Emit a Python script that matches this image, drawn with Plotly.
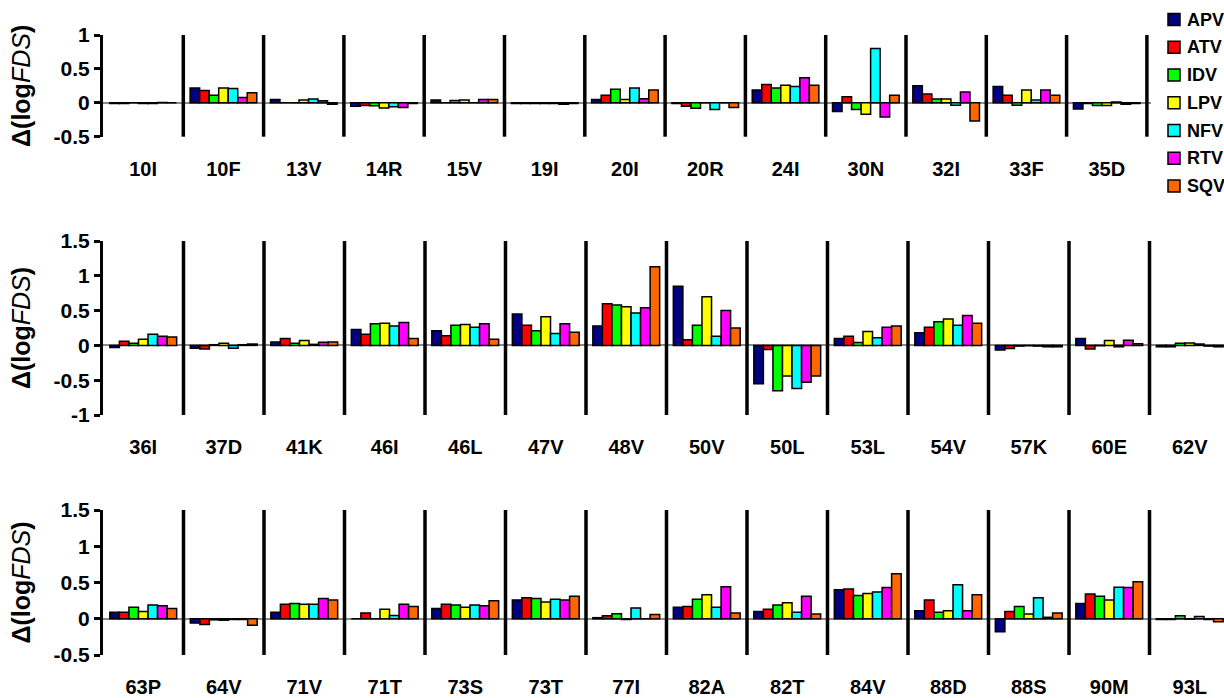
import plotly.graph_objects as go

drugs = ["APV", "ATV", "IDV", "LPV", "NFV", "RTV", "SQV"]
colors = ["#000080", "#FF0000", "#00FF00", "#FFFF00", "#00FFFF", "#FF00FF", "#FF6600"]

# Panel 1
cats1 = ["10I", "10F", "13V", "14R", "15V", "19I", "20I", "20R", "24I", "30N", "32I", "33F", "35D"]
apv1 = [-0.01, 0.22, 0.05, -0.05, 0.04, -0.01, 0.05, -0.01, 0.19, -0.13, 0.25, 0.24, -0.09]
atv1 = [-0.01, 0.18, 0.0, -0.04, 0.0, -0.01, 0.11, -0.05, 0.27, 0.09, 0.13, 0.11, -0.01]
idv1 = [0.0, 0.11, 0.0, -0.045, 0.035, -0.01, 0.20, -0.08, 0.22, -0.10, 0.055, -0.035, -0.04]
lpv1 = [-0.01, 0.22, 0.04, -0.075, 0.04, -0.01, 0.05, 0.0, 0.26, -0.17, 0.055, 0.19, -0.04]
nfv1 = [-0.01, 0.21, 0.055, -0.06, 0.0, -0.01, 0.22, -0.10, 0.24, 0.80, -0.035, 0.04, 0.01]
rtv1 = [0.005, 0.08, 0.03, -0.07, 0.05, -0.02, 0.06, 0.0, 0.37, -0.21, 0.16, 0.19, -0.02]
sqv1 = [0.0, 0.15, -0.02, -0.01, 0.05, -0.01, 0.19, -0.07, 0.26, 0.11, -0.27, 0.11, -0.01]

# Panel 2
cats2 = ["36I", "37D", "41K", "46I", "46L", "47V", "48V", "50V", "50L", "53L", "54V", "57K", "60E", "62V"]
apv2 = [-0.03, -0.04, 0.05, 0.23, 0.21, 0.45, 0.28, 0.85, -0.55, 0.10, 0.18, -0.065, 0.10, -0.02]
atv2 = [0.06, -0.05, 0.10, 0.16, 0.14, 0.29, 0.60, 0.08, -0.06, 0.13, 0.26, -0.045, -0.05, -0.02]
idv2 = [0.03, 0.01, 0.03, 0.31, 0.29, 0.21, 0.58, 0.29, -0.65, 0.04, 0.34, -0.01, -0.005, 0.03]
lpv2 = [0.09, 0.03, 0.07, 0.32, 0.30, 0.41, 0.555, 0.70, -0.44, 0.20, 0.38, -0.005, 0.07, 0.035]
nfv2 = [0.16, -0.04, 0.015, 0.28, 0.26, 0.17, 0.465, 0.13, -0.62, 0.11, 0.29, -0.01, -0.02, 0.02]
rtv2 = [0.13, 0.01, 0.045, 0.33, 0.31, 0.31, 0.54, 0.50, -0.53, 0.26, 0.43, -0.02, 0.075, -0.01]
sqv2 = [0.12, 0.02, 0.05, 0.10, 0.09, 0.19, 1.13, 0.25, -0.44, 0.28, 0.32, -0.02, 0.025, -0.02]

# Panel 3
cats3 = ["63P", "64V", "71V", "71T", "73S", "73T", "77I", "82A", "82T", "84V", "88D", "88S", "90M", "93L"]
apv3 = [0.09, -0.06, 0.09, 0.0, 0.14, 0.26, 0.015, 0.16, 0.10, 0.40, 0.11, -0.18, 0.21, -0.01]
atv3 = [0.09, -0.08, 0.20, 0.08, 0.20, 0.29, 0.04, 0.17, 0.13, 0.41, 0.26, 0.10, 0.34, -0.01]
idv3 = [0.16, -0.015, 0.21, 0.0, 0.19, 0.28, 0.07, 0.27, 0.19, 0.32, 0.09, 0.17, 0.31, 0.04]
lpv3 = [0.10, -0.02, 0.20, 0.13, 0.16, 0.23, -0.01, 0.33, 0.22, 0.35, 0.11, 0.065, 0.26, -0.005]
nfv3 = [0.19, -0.01, 0.20, 0.045, 0.19, 0.27, 0.15, 0.16, 0.09, 0.37, 0.47, 0.29, 0.435, 0.03]
rtv3 = [0.18, -0.01, 0.28, 0.20, 0.18, 0.26, 0.0, 0.44, 0.31, 0.43, 0.11, 0.02, 0.43, -0.01]
sqv3 = [0.14, -0.09, 0.26, 0.17, 0.25, 0.31, 0.06, 0.08, 0.065, 0.62, 0.33, 0.08, 0.51, -0.04]

yticks1 = [1, 0.5, 0, -0.5]
yticks2 = [1.5, 1, 0.5, 0, -0.5, -1]
yticks3 = [1.5, 1, 0.5, 0, -0.5]

panels = [
    (cats1, [apv1, atv1, idv1, lpv1, nfv1, rtv1, sqv1], "x", "y"),
    (cats2, [apv2, atv2, idv2, lpv2, nfv2, rtv2, sqv2], "x2", "y2"),
    (cats3, [apv3, atv3, idv3, lpv3, nfv3, rtv3, sqv3], "x3", "y3"),
]

fig = go.Figure()
for p, (cats, series, xa, ya) in enumerate(panels):
    for d, vals, col in zip(drugs, series, colors):
        fig.add_trace(go.Bar(
            x=cats, y=vals, name=d, xaxis=xa, yaxis=ya,
            marker=dict(color=col, line=dict(color="black", width=1.5)),
            legendgroup=d, showlegend=False,
        ))

FONT = "Liberation Sans, Arial, sans-serif"
title_txt = "<b>Δ(log</b><i>FDS</i><b>)</b>"

def yax(rng, dom, ticks):
    return dict(
        domain=dom, range=rng, tickvals=ticks, ticktext=[f"{t:g}" for t in ticks],
        showline=True, linecolor="black", linewidth=3, mirror=False,
        ticks="outside", ticklen=6, tickwidth=3, tickcolor="black",
        showgrid=False, zeroline=True, zerolinecolor="#8a8a8a", zerolinewidth=2,
        tickfont=dict(family=FONT, size=21, color="black", weight="bold"),
        title=dict(text=title_txt, font=dict(family=FONT, size=25, color="black"), standoff=16),
        automargin=False, fixedrange=True,
    )

def xax(dom, n_end, anchor):
    return dict(
        domain=dom, range=[-0.5, n_end], anchor=anchor, type="category",
        showline=False, ticks="", showgrid=False, zeroline=False,
        tickfont=dict(family=FONT, size=20, color="black", weight="bold"),
        ticklabelstandoff=18, automargin=False, fixedrange=True,
    )

W, H = 1224, 698
left = 103 / W
step1 = 80.3
step23 = 80.5
fig.update_layout(
    template="none",
    width=W, height=H, margin=dict(l=0, r=0, t=0, b=0, autoexpand=False),
    paper_bgcolor="white", plot_bgcolor="rgba(0,0,0,0)",
    barmode="group", bargap=0.17, bargroupgap=0,
    font=dict(family=FONT, color="black"),
    xaxis=xax([left, 1151 / W], (1151 - 103) / step1 - 0.5, "y"),
    xaxis2=xax([left, 1.0], (W - 103) / step23 - 0.5, "y2"),
    xaxis3=xax([left, 1.0], (W - 103) / step23 - 0.5, "y3"),
    yaxis=dict(yax([-0.5, 1], [1 - 136.7 / H, 1 - 35 / H], yticks1), anchor="x"),
    yaxis2=dict(yax([-1, 1.5], [1 - 415 / H, 1 - 241 / H], yticks2), anchor="x2"),
    yaxis3=dict(yax([-0.5, 1.5], [1 - 655 / H, 1 - 510 / H], yticks3), anchor="x3"),
    showlegend=False,
)

# group separators
shapes = []
for cats, xa, ya, last in [(cats1, "x", "y", True), (cats2, "x2", "y2", False), (cats3, "x3", "y3", False)]:
    n = len(cats)
    rng_end = n if last else n - 1
    for i in range(rng_end):
        shapes.append(dict(type="line", xref=xa, yref=f"{ya} domain",
                           x0=i + 0.5, x1=i + 0.5, y0=0, y1=1, layer="above",
                           line=dict(color="black", width=3.5)))

# legend (drawn as keys + text at the right, top)
annotations = []
key_x0, key_x1, txt_x = 1168, 1180, 1185
key_top, key_step, key_h = 13.5, 27.75, 12
for i, (d, col) in enumerate(zip(drugs, colors)):
    y0 = key_top + i * key_step
    shapes.append(dict(type="rect", xref="paper", yref="paper",
                       x0=key_x0 / W, x1=key_x1 / W,
                       y0=1 - (y0 + key_h) / H, y1=1 - y0 / H,
                       fillcolor=col, line=dict(color="black", width=1.5), layer="above"))
    annotations.append(dict(text=f"<b>{d}</b>", xref="paper", yref="paper",
                            x=txt_x / W, y=1 - (y0 + key_h / 2) / H,
                            xanchor="left", yanchor="middle", showarrow=False,
                            font=dict(family=FONT, size=18, color="black")))
fig.update_layout(shapes=shapes, annotations=annotations)

fig.write_html("out.html", config={"displayModeBar": False},
               post_script="document.body.style.margin='0';document.body.style.overflow='hidden';")
